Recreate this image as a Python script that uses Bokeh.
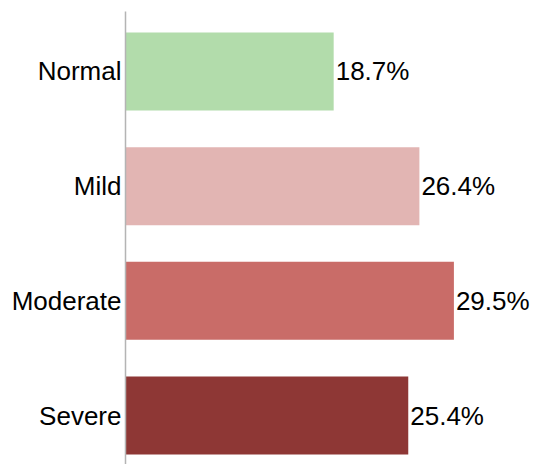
from bokeh.plotting import figure
from bokeh.models import Range1d, FixedTicker, ColumnDataSource
from bokeh.embed import file_html
from bokeh.resources import INLINE
from bokeh.core.properties import value

categories = ["Normal", "Mild", "Moderate", "Severe"]
percentages = [18.7, 26.4, 29.5, 25.4]
colors = ["#b2dcab", "#e2b5b3", "#c96c68", "#8e3735"]

n = len(categories)
ypos = [n - 1 - i for i in range(n)]
labels = [f"{v:.1f}%" for v in percentages]

src = ColumnDataSource(dict(y=ypos, v=percentages, c=colors, lab=labels))

p = figure(width=533, height=464, output_backend="svg", toolbar_location=None,
           x_range=Range1d(0, 36.65), y_range=Range1d(-0.427, 3.523),
           min_border_left=125, min_border_right=0, min_border_top=11, min_border_bottom=0)

p.hbar(y="y", right="v", left=0, height=0.68, color="c", line_color=None, source=src)
p.text(x="v", y="y", text="lab", source=src, x_offset=2,
       text_font=value("Liberation Sans"), text_font_size="26px",
       text_baseline="middle", text_align="left", text_color="#000000")

p.xaxis.visible = False
p.xgrid.visible = False
p.ygrid.visible = False
p.outline_line_color = None

ax = p.yaxis[0]
ax.ticker = FixedTicker(ticks=ypos)
ax.major_label_overrides = {y: c for y, c in zip(ypos, categories)}
ax.major_tick_line_color = None
ax.minor_tick_line_color = None
ax.axis_line_color = "#b4b4b4"
ax.axis_line_width = 1.5
ax.major_label_standoff = -2
ax.major_label_text_font = "Liberation Sans"
ax.major_label_text_font_size = "26px"
ax.major_label_text_color = "#000000"

open("out.html", "w").write(file_html(p, INLINE))
